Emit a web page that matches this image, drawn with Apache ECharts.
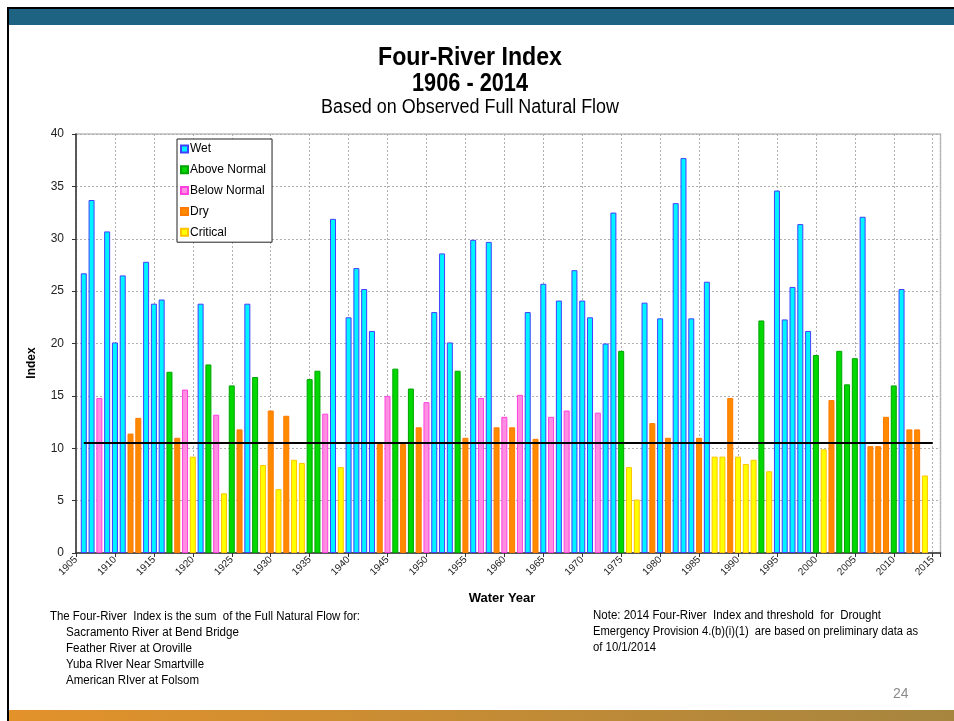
<!DOCTYPE html>
<html>
<head>
<meta charset="utf-8">
<script src="https://cdn.jsdelivr.net/npm/echarts@6/dist/echarts.min.js"></script>
<style>
html,body{margin:0;padding:0;background:#fff;}
#chart{width:954px;height:721px;}
</style>
</head>
<body>
<div id="chart"></div>
<script>
// ---- data ----
var firstYear = 1906;
var indexValues = [
  26.7, 33.7, 14.8, 30.7, 20.1, 26.5, 11.4, 12.9, 27.8, 23.8,   // 1906-1915
  24.2, 17.3, 11.0, 15.6, 9.2, 23.8, 18.0, 13.2, 5.7, 16.0,     // 1916-1925
  11.8, 23.8, 16.8, 8.4, 13.6, 6.1, 13.1, 8.9, 8.6, 16.6,       // 1926-1935
  17.4, 13.3, 31.9, 8.2, 22.5, 27.2, 25.2, 21.2, 10.4, 15.0,    // 1936-1945
  17.6, 10.4, 15.7, 12.0, 14.4, 23.0, 28.6, 20.1, 17.4, 11.0,   // 1946-1955
  29.9, 14.8, 29.7, 12.0, 13.0, 12.0, 15.1, 23.0, 10.9, 25.7,   // 1956-1965
  13.0, 24.1, 13.6, 27.0, 24.1, 22.5, 13.4, 20.0, 32.5, 19.3,   // 1966-1975
  8.2, 5.1, 23.9, 12.4, 22.4, 11.0, 33.4, 37.7, 22.4, 11.0,     // 1976-1985
  25.9, 9.2, 9.2, 14.8, 9.2, 8.5, 8.9, 22.2, 7.8, 34.6,         // 1986-1995
  22.3, 25.4, 31.4, 21.2, 18.9, 9.9, 14.6, 19.3, 16.1, 18.6,    // 1996-2005
  32.1, 10.2, 10.2, 13.0, 16.0, 25.2, 11.8, 11.8, 7.4           // 2006-2014
];
var yearClass = [
  'W','W','BN','W','W','W','D','D','W','W',
  'W','AN','D','BN','C','W','AN','BN','C','AN',
  'D','W','AN','C','D','C','D','C','C','AN',
  'AN','BN','W','C','W','W','W','W','D','BN',
  'AN','D','AN','D','BN','W','W','W','AN','D',
  'W','BN','W','D','BN','D','BN','W','D','W',
  'BN','W','BN','W','W','W','BN','W','W','AN',
  'C','C','W','D','W','D','W','W','W','D',
  'W','C','C','D','C','C','C','AN','C','W',
  'W','W','W','W','AN','C','D','AN','AN','AN',
  'W','D','D','D','AN','W','D','D','C'
];
var classCodes = ['W','AN','BN','D','C'];
var classNames = ['Wet','Above Normal','Below Normal','Dry','Critical'];
var classFill = ['#00f4ff','#00d800','#ff8ee0','#ff8a00','#ffff00'];
var classBorder = ['#4040ff','#00a400','#ff40e0','#ff7a00','#ffc400'];
var threshold = 10.5;
var thresholdSpan = [1906, 2015];

// ---- build series ----
var series = classCodes.map(function(code, k){
  var data = [];
  for (var i = 0; i < indexValues.length; i++) {
    if (yearClass[i] === code) data.push([firstYear + i, indexValues[i]]);
  }
  var s = {
    name: classNames[k],
    type: 'bar',
    data: data,
    barWidth: 6,
    barGap: '-100%',
    itemStyle: {color: classFill[k], borderColor: classBorder[k], borderWidth: 1},
    emphasis: {disabled: true},
    animation: false
  };
  if (k === 0) {
    s.markLine = {
      silent: true, symbol: 'none', animation: false,
      label: {show: false},
      lineStyle: {color: '#000', width: 2, type: 'solid'},
      data: [[{coord: [thresholdSpan[0], threshold]}, {coord: [thresholdSpan[1], threshold]}]]
    };
  }
  return s;
});

var sans = "'Liberation Sans',Arial,sans-serif";
var measureCtx = document.createElement('canvas').getContext('2d');
// condensed text: Arial-metric font squeezed horizontally to a target width
function fitText(text, font, x, y, targetWidth, align, extra) {
  measureCtx.font = font;
  var w = measureCtx.measureText(text).width;
  var sx = targetWidth / w;
  var el = {type: 'text', x: x, y: y, scaleX: sx, scaleY: 1, silent: true,
    style: {text: text, x: 0, y: 0, align: align || 'left', verticalAlign: 'middle', font: font, fill: '#000'}};
  if (extra) for (var k in extra) el.style[k] = extra[k];
  return el;
}

var chart = echarts.init(document.getElementById('chart'), null, {renderer: 'canvas'});
chart.setOption({
  backgroundColor: '#fff',
  animation: false,
  textStyle: {fontFamily: sans},
  grid: {left: 76, right: 13.5, top: 134, bottom: 168, show: true, borderColor: '#bdbdbd', borderWidth: 1.5},
  legend: {
    orient: 'vertical', left: 177, top: 139,
    data: classNames,
    backgroundColor: '#fff', borderColor: '#222', borderWidth: 1,
    padding: [4, 6, 4, 3], itemWidth: 7, itemHeight: 7, itemGap: 8.8,
    icon: 'rect',
    selectedMode: false,
    textStyle: {fontSize: 12, color: '#000', fontFamily: sans, padding: [0,0,0,-3]}
  },
  xAxis: {
    type: 'value', min: 1905, max: 2016, interval: 5,
    axisLine: {show: true, onZero: false, lineStyle: {color: '#333', width: 1.5}},
    axisTick: {show: true, length: 4, inside: false, lineStyle: {color: '#333'}},
    axisLabel: {
      rotate: 45, fontSize: 10, color: '#222', margin: 5,
      formatter: function(v){ return (v % 5 === 0 && v <= 2015) ? String(v) : ''; }
    },
    splitLine: {show: true, lineStyle: {color: '#b0b0b0', type: [2,2], width: 1}}
  },
  yAxis: {
    type: 'value', min: 0, max: 40, interval: 5,
    axisLine: {show: true, lineStyle: {color: '#333', width: 1.5}},
    axisTick: {show: true, length: 4, lineStyle: {color: '#333'}},
    axisLabel: {fontSize: 12, color: '#222', margin: 12},
    splitLine: {show: true, lineStyle: {color: '#b0b0b0', type: [2,2], width: 1}}
  },
  graphic: [
    {type: 'rect', shape: {x: 7, y: 7, width: 947, height: 2}, style: {fill: '#000'}, silent: true},
    {type: 'rect', shape: {x: 7, y: 7, width: 2, height: 714}, style: {fill: '#000'}, silent: true},
    {type: 'rect', shape: {x: 9, y: 9, width: 945, height: 16}, style: {fill: '#1f6383'}, silent: true},
    {type: 'rect', shape: {x: 9, y: 710, width: 945, height: 11}, silent: true,
      style: {fill: new echarts.graphic.LinearGradient(0, 0, 1, 0, [{offset: 0, color: '#e3922a'}, {offset: 1, color: '#a6853f'}])}},
    fitText('Four-River Index', 'bold 25px ' + sans, 470, 58, 184, 'center'),
    fitText('1906 - 2014', 'bold 25px ' + sans, 470, 84, 116, 'center'),
    fitText('Based on Observed Full Natural Flow', '20px ' + sans, 470, 107, 298, 'center'),
    {type: 'text', rotation: Math.PI / 2, x: 32, y: 363, silent: true,
      style: {text: 'Index', align: 'center', verticalAlign: 'middle', font: "bold 12px " + sans, fill: '#000'}},
    {type: 'text', silent: true,
      style: {text: 'Water Year', x: 502, y: 598, align: 'center', verticalAlign: 'middle', font: "bold 13px " + sans, fill: '#000'}},
    fitText('The Four-River  Index is the sum  of the Full Natural Flow for:', '12px ' + sans, 50, 617, 310),
    fitText('Sacramento River at Bend Bridge', '12px ' + sans, 66, 633, 173),
    fitText('Feather River at Oroville', '12px ' + sans, 66, 649, 126),
    fitText('Yuba RIver Near Smartville', '12px ' + sans, 66, 665, 138),
    fitText('American RIver at Folsom', '12px ' + sans, 66, 681, 133),
    fitText('Note: 2014 Four-River  Index and threshold  for  Drought', '12px ' + sans, 593, 616, 288),
    fitText('Emergency Provision 4.(b)(i)(1)  are based on preliminary data as', '12px ' + sans, 593, 632, 325),
    fitText('of 10/1/2014', '12px ' + sans, 593, 648, 63),
    {type: 'text', silent: true,
      style: {text: '24', x: 893, y: 694, verticalAlign: 'middle', font: "14px " + sans, fill: '#8a8a8a'}}
  ],
  series: series
});
</script>
</body>
</html>
